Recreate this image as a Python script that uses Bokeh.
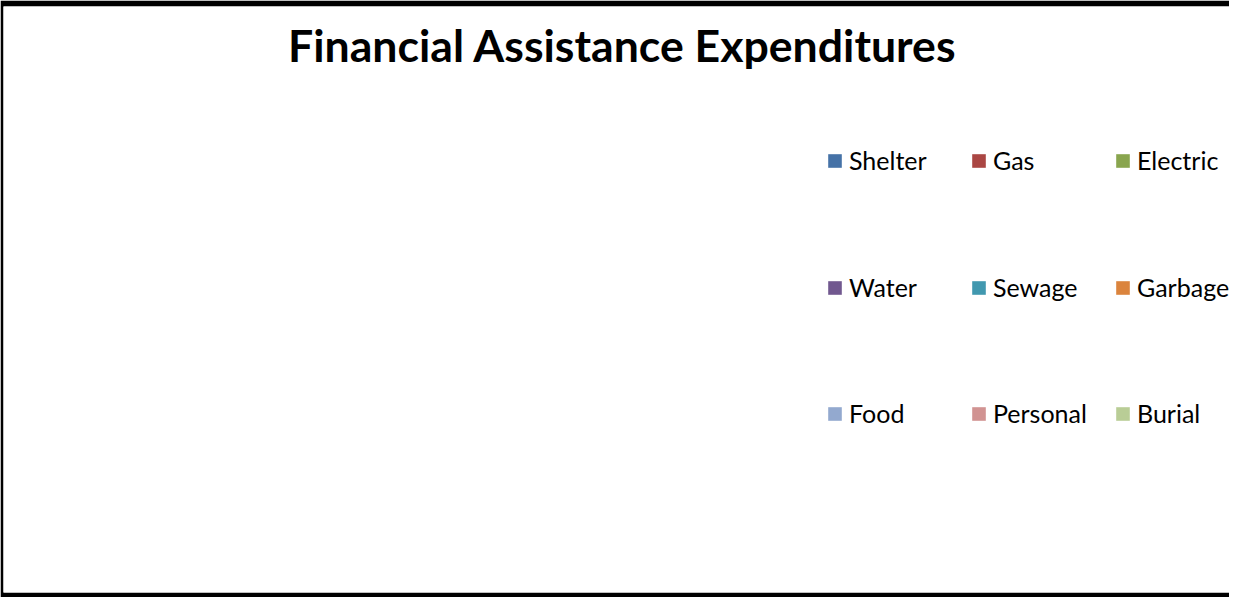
from bokeh.plotting import figure
from bokeh.models import Label, Legend, LegendItem, ColumnDataSource, Range1d
from bokeh.embed import file_html
from bokeh.resources import INLINE
import math

# ---- data ----
title_text = "Financial Assistance Expenditures"
categories = ["Shelter", "Gas", "Electric", "Water", "Sewage", "Garbage", "Food", "Personal", "Burial"]
values = [0, 0, 0, 0, 0, 0, 0, 0, 0]
colors = ["#4572A7", "#AA4643", "#89A54E", "#71588F", "#4198AF", "#DB843D", "#93A9CF", "#D19392", "#B9CD96"]

PIE_R = 1.8
total = sum(values)
starts, ends, radii = [], [], []
acc = 0.0
for v in values:
    frac = (v / total) if total else 0.0
    s = math.pi / 2 - acc * 2 * math.pi
    acc += frac
    e = math.pi / 2 - acc * 2 * math.pi
    starts.append(e)
    ends.append(s)
    radii.append(PIE_R if frac > 0 else 0.0)  # empty slices are not drawn

src = ColumnDataSource(dict(category=categories, value=values, start=starts, end=ends,
                            color=colors, radius=radii))

W, H = 1229, 597
p = figure(width=W, height=H, output_backend="svg", toolbar_location=None,
           x_axis_location=None, y_axis_location=None,
           x_range=Range1d(0, 10), y_range=Range1d(0, 5))
p.min_border_left = 3
p.min_border_top = 6
p.min_border_bottom = 5
p.min_border_right = 0
p.border_fill_color = "black"
p.background_fill_color = "white"
p.outline_line_color = None
p.xgrid.visible = False
p.ygrid.visible = False

r = p.wedge(x=3.3, y=2.2, radius="radius", start_angle="start", end_angle="end",
            fill_color="color", line_alpha=0, source=src)

frame_top = 6
frame_h = H - 6 - 5
# title
p.add_layout(Label(x=622 - 3, y=frame_h - (44 - frame_top), x_units="screen", y_units="screen",
                   text=title_text, text_align="center", text_baseline="middle",
                   text_font="Lato", text_font_style="bold", text_font_size="44.6px",
                   text_color="black"))

# legend, 3 rows of 3
row_centers = [162, 289, 415]  # canvas y of row centres
item_h = 26
for rr in range(3):
    items = [LegendItem(label=categories[rr * 3 + c], renderers=[r], index=rr * 3 + c) for c in range(3)]
    cy = row_centers[rr] - frame_top
    leg = Legend(items=items, orientation="horizontal",
                 location=(823, frame_h - cy - item_h / 2),
                 padding=0, margin=0, spacing=0,
                 glyph_width=17, glyph_height=17, label_standoff=6,
                 label_width=121, label_height=item_h,
                 label_text_font="Lato", label_text_font_size="25px", label_text_color="black",
                 border_line_alpha=0, background_fill_alpha=0)
    p.add_layout(leg, "center")

open("out.html", "w").write(file_html(p, INLINE))
